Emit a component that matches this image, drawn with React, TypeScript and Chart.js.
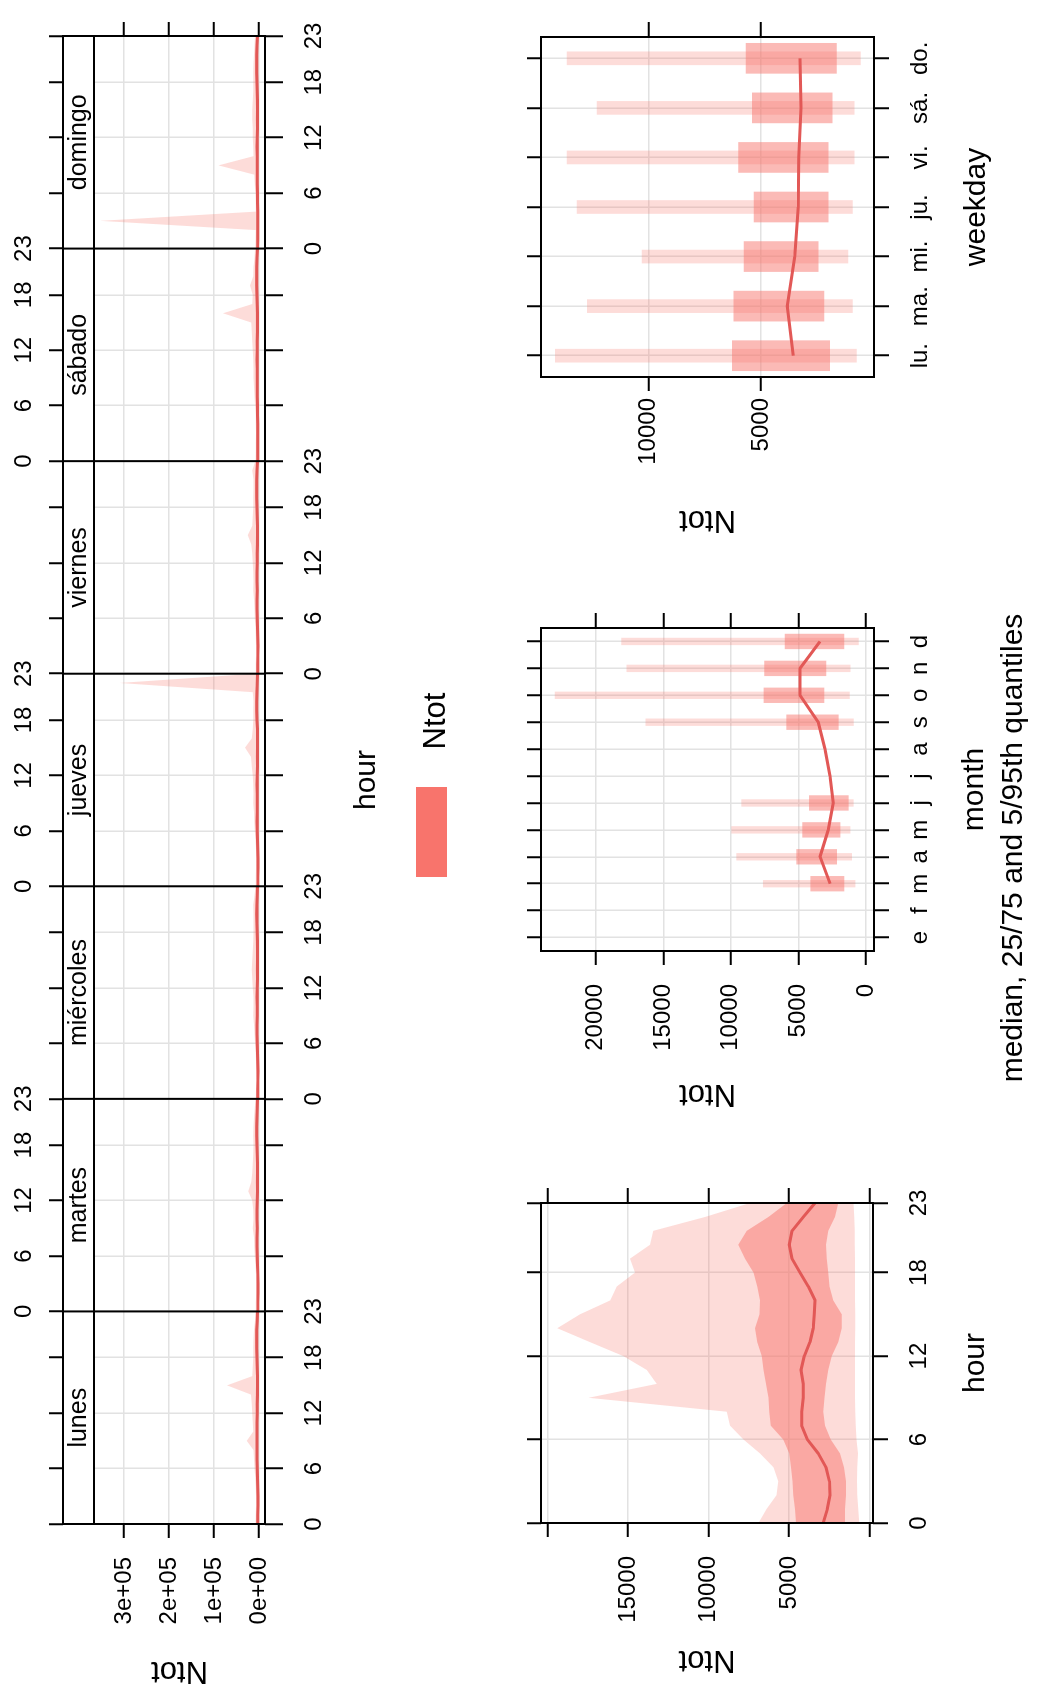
import React, { useEffect, useRef } from 'react';
import { Chart, registerables } from 'chart.js';

Chart.register(...registerables);

// ---------------- data ----------------
const hours = [0, 1, 2, 3, 4, 5, 6, 7, 8, 9, 10, 11, 12, 13, 14, 15, 16, 17, 18, 19, 20, 21, 22, 23];
const hourTicks = [0, 6, 12, 18, 23];
const dayNames = ['lunes', 'martes', 'miércoles', 'jueves', 'viernes', 'sábado', 'domingo'];

const dayHourMedian = [
  [2900, 2600, 2400, 2400, 2600, 3200, 4000, 4500, 4400, 4200, 4300, 4500, 4000, 3700, 3600, 3500, 3500, 3800, 4300, 4900, 5100, 4800, 4100, 3400],
  [2800, 2500, 2400, 2300, 2500, 3100, 3900, 4400, 4300, 4100, 4200, 4400, 3900, 3600, 3500, 3400, 3400, 3700, 4200, 4800, 5000, 4700, 4000, 3300],
  [2900, 2600, 2500, 2400, 2700, 3200, 3900, 4300, 4200, 4000, 4100, 4300, 3900, 3600, 3500, 3400, 3300, 3600, 4100, 4700, 5000, 4700, 4000, 3400],
  [2800, 2500, 2400, 2400, 2600, 3100, 3800, 4200, 4100, 3900, 4000, 4200, 3800, 3500, 3400, 3300, 3300, 3600, 4200, 4800, 5000, 4600, 3900, 3300],
  [2900, 2600, 2500, 2500, 2700, 3300, 4000, 4400, 4300, 4100, 4200, 4400, 4000, 3700, 3600, 3500, 3500, 3800, 4300, 4900, 5200, 4900, 4200, 3500],
  [3000, 2700, 2600, 2600, 2700, 3100, 3600, 4000, 4100, 4000, 4100, 4300, 4000, 3700, 3600, 3500, 3600, 3900, 4400, 5000, 5200, 4900, 4300, 3600],
  [3100, 2800, 2700, 2700, 2800, 3100, 3500, 3900, 4000, 3900, 4000, 4200, 3900, 3600, 3500, 3400, 3500, 3800, 4300, 4900, 5100, 4800, 4200, 3500],
];
const dayHourP25 = [
  [1600, 1500, 1400, 1400, 1500, 1900, 2500, 2800, 2800, 2700, 2700, 2600, 2400, 2000, 1800, 1800, 2200, 2500, 2600, 2700, 2700, 2600, 2200, 1900],
  [1500, 1400, 1400, 1300, 1500, 1800, 2400, 2700, 2900, 2800, 2700, 2500, 2300, 1900, 1700, 1700, 2300, 2500, 2600, 2600, 2700, 2500, 2100, 1900],
  [1500, 1500, 1400, 1400, 1600, 1800, 2400, 2800, 2900, 2800, 2600, 2500, 2300, 1900, 1700, 1800, 2200, 2400, 2500, 2700, 2800, 2600, 2100, 2000],
  [1500, 1400, 1400, 1400, 1500, 1800, 2300, 2700, 2800, 2700, 2600, 2500, 2300, 1900, 1700, 1700, 2200, 2400, 2500, 2600, 2600, 2500, 2100, 1900],
  [1600, 1500, 1500, 1400, 1600, 1900, 2500, 2800, 2900, 2800, 2700, 2600, 2400, 2000, 1800, 1800, 2300, 2500, 2600, 2700, 2800, 2600, 2200, 2000],
  [1600, 1600, 1500, 1500, 1600, 1800, 2200, 2600, 2800, 2800, 2700, 2600, 2400, 2000, 1800, 1800, 2200, 2500, 2600, 2700, 2700, 2600, 2300, 2000],
  [1700, 1600, 1500, 1500, 1600, 1800, 2100, 2500, 2700, 2700, 2600, 2600, 2400, 2000, 1800, 1800, 2200, 2500, 2600, 2700, 2700, 2600, 2300, 2000],
];
const dayHourP75 = [
  [4600, 4700, 4700, 4800, 4900, 5000, 5400, 6200, 6300, 6400, 6500, 6600, 6700, 7000, 7100, 6900, 6800, 7000, 7300, 7800, 8100, 7600, 6300, 5200],
  [4500, 4600, 4700, 4700, 4800, 5000, 5300, 6100, 6200, 6300, 6400, 6600, 6600, 6900, 7000, 6800, 6700, 6900, 7200, 7700, 8000, 7500, 6200, 5100],
  [4600, 4600, 4700, 4800, 4900, 5000, 5300, 6100, 6200, 6200, 6400, 6500, 6700, 6900, 7000, 6800, 6800, 7000, 7200, 7700, 8100, 7700, 6400, 5200],
  [4500, 4600, 4700, 4800, 4800, 4900, 5300, 6100, 6100, 6300, 6400, 6600, 6600, 6900, 7200, 6900, 6800, 6900, 7200, 7600, 8000, 7600, 6300, 5100],
  [4600, 4700, 4800, 4800, 4900, 5000, 5400, 6200, 6300, 6300, 6500, 6700, 6800, 7000, 7100, 6900, 6900, 7100, 7400, 7900, 8200, 7800, 6500, 5300],
  [4700, 4800, 4800, 4900, 5000, 5000, 5200, 5900, 6100, 6300, 6500, 6700, 6800, 7000, 7100, 7000, 7100, 7200, 7600, 8200, 8400, 7900, 6600, 5400],
  [4800, 4900, 4900, 5000, 5000, 5000, 5200, 5800, 6000, 6200, 6400, 6600, 6700, 6900, 7000, 6900, 7000, 7100, 7500, 8100, 8300, 7800, 6600, 5400],
];
const dayHourP5 = [
  [700, 750, 780, 800, 780, 740, 820, 870, 900, 920, 910, 900, 890, 900, 880, 870, 900, 910, 920, 930, 940, 930, 950, 980],
  [690, 740, 770, 790, 770, 730, 810, 860, 890, 910, 900, 890, 880, 890, 870, 860, 890, 900, 910, 920, 930, 920, 940, 970],
  [710, 760, 790, 810, 790, 750, 830, 880, 910, 930, 920, 910, 900, 910, 890, 880, 910, 920, 930, 940, 950, 940, 960, 990],
  [700, 740, 780, 800, 780, 740, 820, 860, 900, 920, 900, 900, 890, 900, 880, 870, 900, 900, 920, 930, 940, 930, 950, 980],
  [720, 760, 790, 810, 790, 750, 830, 880, 910, 930, 920, 910, 900, 910, 890, 880, 910, 920, 930, 940, 950, 940, 960, 990],
  [740, 780, 800, 820, 800, 760, 800, 840, 880, 900, 900, 900, 900, 900, 890, 880, 900, 910, 920, 930, 940, 940, 960, 1000],
  [750, 790, 810, 830, 810, 770, 790, 830, 870, 890, 890, 890, 890, 890, 880, 870, 890, 900, 910, 920, 930, 930, 950, 1000],
];
const dayHourP95 = [
  [8000, 7000, 6500, 6500, 7000, 8500, 10000, 11000, 12000, 27000, 13000, 14000, 15000, 16000, 18000, 71000, 15000, 14000, 13000, 13000, 12000, 11000, 9000, 8000],
  [7500, 7000, 6000, 6000, 6500, 8000, 9500, 10500, 11000, 14000, 12000, 13000, 15000, 24000, 17000, 15000, 14000, 13000, 12500, 13000, 12000, 11000, 9500, 8000],
  [7000, 6500, 6000, 6000, 6500, 7500, 9000, 10000, 11000, 13000, 12000, 12500, 14000, 15000, 16000, 15000, 14000, 13000, 12000, 12500, 12000, 13000, 10000, 8000],
  [7500, 7000, 6500, 6000, 6500, 8000, 9500, 10500, 11000, 13000, 12000, 13000, 14000, 16000, 18000, 31000, 16000, 14000, 13000, 13000, 12500, 14000, 310000, 9000],
  [7500, 7000, 6500, 6500, 7000, 8000, 9500, 10000, 11000, 13000, 12500, 13000, 14000, 15000, 17000, 25000, 15000, 14000, 13000, 13000, 12000, 12000, 15000, 8500],
  [8000, 7500, 7000, 6500, 7000, 7500, 9000, 10000, 11000, 12000, 12000, 13000, 14000, 15000, 16000, 17000, 80000, 15000, 14000, 20000, 13000, 12000, 10000, 9000],
  [8500, 8000, 7500, 353000, 7500, 7500, 8500, 9500, 10500, 90000, 12000, 13000, 14000, 14000, 15000, 15000, 14000, 13000, 13000, 13000, 12000, 11000, 10000, 9000],
];
const topValueTicks = [0, 100000, 200000, 300000];
const topValueLabels = ['0e+00', '1e+05', '2e+05', '3e+05'];

// hour panel
const hourMedian = [2870, 2620, 2450, 2490, 2700, 3180, 3860, 4210, 4210, 4110, 4110, 4250, 4050, 3700, 3490, 3430, 3380, 3800, 4320, 4810, 4980, 4810, 4110, 3380];
const hourP25 = [1520, 1520, 1460, 1460, 1580, 1830, 2410, 2760, 2870, 2800, 2700, 2560, 2350, 1940, 1730, 1730, 2250, 2490, 2560, 2660, 2700, 2560, 2140, 1940];
const hourP75 = [4570, 4630, 4730, 4790, 4880, 4980, 5350, 6140, 6220, 6280, 6430, 6590, 6700, 6970, 7110, 6840, 6800, 6970, 7210, 7730, 8150, 7630, 6280, 5140];
const hourP5 = [630, 700, 760, 780, 760, 720, 800, 850, 880, 900, 900, 900, 900, 900, 880, 880, 900, 900, 900, 900, 920, 920, 950, 1000];
const hourP95 = [6900, 6390, 5770, 5660, 5970, 6800, 7830, 8660, 8870, 17460, 13220, 13840, 15290, 17360, 19390, 17980, 16110, 15700, 14560, 14870, 13630, 13430, 10200, 7420];
const hourValueTicks = [0, 5000, 10000, 15000, 20000];
const hourValueLabels = ['', '5000', '10000', '15000', ''];

// month panel
const monthTicks = [1, 2, 3, 4, 5, 6, 7, 8, 9, 10, 11, 12];
const monthLabels = ['e', 'f', 'm', 'a', 'm', 'j', 'j', 'a', 's', 'o', 'n', 'd'];
const monthLineMonths = [3, 4, 5, 6, 7, 8, 9, 10, 11, 12];
const monthMedian = [2660, 3400, 2790, 2420, 2660, 3030, 3530, 4880, 4880, 3400];
const monthBoxMonths = [3, 4, 5, 6, 9, 10, 11, 12];
const monthP25 = [1630, 2170, 1920, 1310, 2050, 3110, 2960, 1630];
const monthP75 = [4090, 5130, 4690, 4190, 5870, 7550, 7500, 5990];
const monthP5 = [810, 1060, 1180, 940, 940, 1230, 1180, 570];
const monthP95 = [7600, 9570, 9940, 9200, 16300, 23010, 17700, 18080];
const monthValueTicks = [0, 5000, 10000, 15000, 20000];
const monthValueLabels = ['0', '5000', '10000', '15000', '20000'];

// weekday panel
const weekdayTicks = [1, 2, 3, 4, 5, 6, 7];
const weekdayLabels = ['lu.', 'ma.', 'mi.', 'ju.', 'vi.', 'sá.', 'do.'];
const weekdayMedian = [3570, 3840, 3500, 3350, 3320, 3230, 3270];
const weekdayP25 = [1950, 2210, 2460, 2020, 2020, 1840, 1650];
const weekdayP75 = [6270, 6200, 5750, 5310, 6000, 5380, 5660];
const weekdayP5 = [770, 940, 1140, 940, 870, 870, 590];
const weekdayP95 = [14120, 12710, 10280, 13160, 13600, 12270, 13600];
const weekdayValueTicks = [5000, 10000];
const weekdayValueLabels = ['5000', '10000'];

// ---------------- styling / layout ----------------
const W = 1686;
const H = 1037;
const FONT = '"Liberation Sans", Arial, Helvetica, sans-serif';
const LIGHT = 'rgba(248,118,109,0.26)';
const DARK = 'rgba(248,118,109,0.5)';
const LINE = 'rgb(226,88,86)';
const SWATCH = 'rgb(248,116,108)';
const GRID = '#e2e2e2';
const NONE = 'rgba(0,0,0,0)';
const HOURS_PER_PANEL = 23;
const STRIP_H = 31;

const TOP_AREA = { left: 162, top: 63, right: 1650, bottom: 265 };
const HOUR_AREA = { left: 163, top: 541, right: 483, bottom: 873 };
const MONTH_AREA = { left: 735, top: 541, right: 1058, bottom: 874 };
const WD_AREA = { left: 1309, top: 541, right: 1649, bottom: 874 };

// space reserved for each axis box (labels live inside it)
const TOP_SIZES = { left: 150, right: 30, top: 63, bottom: 80 };
const LOWER_SIZES = { left: 150, right: 30, top: 60, bottom: 80 };

function pad(a: any, s: any) {
  return { left: a.left - s.left, top: a.top - s.top, right: W - a.right - s.right, bottom: H - a.bottom - s.bottom };
}

function axis(o: any) {
  return {
    type: 'linear',
    position: o.position,
    min: o.min,
    max: o.max,
    bounds: 'data',
    offset: false,
    afterFit: (s: any) => {
      if (s.isHorizontal()) s.height = o.size;
      else s.width = o.size;
    },
    afterBuildTicks: (s: any) => {
      s.ticks = o.ticks.map((v: number) => ({ value: v }));
    },
    ticks: {
      autoSkip: false,
      maxRotation: 0,
      minRotation: 0,
      padding: o.pad ?? 19,
      color: '#000',
      font: { family: FONT, size: 24, lineHeight: 1 },
      callback: (v: number, i: number) => (o.label ? o.label(v, i) : ''),
    },
    grid: {
      offset: false,
      drawOnChartArea: !!o.grid,
      color: o.gridColor ?? GRID,
      lineWidth: 1.5,
      tickColor: '#000',
      tickWidth: 2,
      tickLength: o.tickLength ?? 14,
      drawTicks: true,
    },
    border: { display: false },
  };
}

function baseOptions(area: any, sizes: any) {
  return {
    responsive: false,
    maintainAspectRatio: false,
    animation: false,
    devicePixelRatio: 1,
    events: [],
    layout: { padding: pad(area, sizes), autoPadding: false },
    plugins: { legend: { display: false }, tooltip: { enabled: false }, title: { display: false } },
  };
}

function txt(ctx: any, s: string, x: number, y: number, size: number, rotate = false) {
  ctx.save();
  ctx.translate(x, y);
  if (rotate) ctx.rotate(-Math.PI / 2);
  ctx.font = `${size}px ${FONT}`;
  ctx.fillStyle = '#000';
  ctx.textAlign = 'center';
  ctx.textBaseline = 'middle';
  ctx.fillText(s, 0, 0);
  ctx.restore();
}

function box(ctx: any, a: any) {
  ctx.save();
  ctx.strokeStyle = '#000';
  ctx.lineWidth = 2;
  ctx.strokeRect(a.left, a.top, a.right - a.left, a.bottom - a.top);
  ctx.restore();
}

function bandSets(pts: (arr: any) => any[], med: any, p25: any, p75: any, p5: any, p95: any) {
  const common = { pointRadius: 0, tension: 0, borderColor: NONE, borderWidth: 0 };
  return [
    { data: pts(med), borderColor: LINE, borderWidth: 3, pointRadius: 0, tension: 0, fill: false, borderJoinStyle: 'round' },
    { data: pts(p75), ...common, backgroundColor: DARK, fill: '+1' },
    { data: pts(p25), ...common, fill: false },
    { data: pts(p95), ...common, backgroundColor: LIGHT, fill: '+1' },
    { data: pts(p5), ...common, fill: false },
  ];
}

// ---------- top (day x hour) ----------
function dayHourLabel(v: number, bottom: boolean) {
  if (v % HOURS_PER_PANEL === 0) {
    const b = v / HOURS_PER_PANEL;
    if (b < dayNames.length && (b % 2 === 0) === bottom) return String(hourTicks[0]);
    if (b > 0 && ((b - 1) % 2 === 0) === bottom) return String(hourTicks[hourTicks.length - 1]);
    return '';
  }
  const d = Math.floor(v / HOURS_PER_PANEL);
  const h = v - d * HOURS_PER_PANEL;
  return (d % 2 === 0) === bottom ? String(h) : '';
}

function topConfig() {
  const pts = (arr: number[][]) =>
    arr.flatMap((row, d) => row.map((v, i) => ({ x: d * HOURS_PER_PANEL + hours[i], y: v })));
  const xTickVals: number[] = [];
  dayNames.forEach((_, d) => hourTicks.slice(0, -1).forEach((h) => xTickVals.push(d * HOURS_PER_PANEL + h)));
  xTickVals.push(dayNames.length * HOURS_PER_PANEL);
  const yPx0 = 259;
  const pxPerUnit = 45 / 100000;
  const yMax = (yPx0 - TOP_AREA.top) / pxPerUnit;
  const yMin = -(TOP_AREA.bottom - yPx0) / pxPerUnit;
  const xMax = dayNames.length * HOURS_PER_PANEL;
  const S = TOP_SIZES;
  return {
    type: 'line',
    data: { datasets: bandSets(pts, dayHourMedian, dayHourP25, dayHourP75, dayHourP5, dayHourP95) },
    options: {
      ...baseOptions(TOP_AREA, S),
      scales: {
        x: axis({ position: 'bottom', size: S.bottom, min: 0, max: xMax, ticks: xTickVals, grid: true, tickLength: 18, pad: 19, label: (v: number) => dayHourLabel(v, true) }),
        x2: axis({ position: 'top', size: S.top, min: 0, max: xMax, ticks: xTickVals, grid: false, tickLength: 14, pad: 13, label: (v: number) => dayHourLabel(v, false) }),
        y: axis({ position: 'left', size: S.left, min: yMin, max: yMax, ticks: topValueTicks, grid: true, label: (_: number, i: number) => topValueLabels[i] }),
        y2: axis({ position: 'right', size: S.right, min: yMin, max: yMax, ticks: topValueTicks, grid: false }),
      },
    },
    plugins: [
      {
        id: 'topDecor',
        afterDraw(chart: any) {
          const { ctx, chartArea: a } = chart;
          const xs = chart.scales.x;
          ctx.save();
          ctx.fillStyle = '#fff';
          ctx.fillRect(a.left, a.top, a.right - a.left, STRIP_H);
          ctx.strokeStyle = '#000';
          ctx.lineWidth = 2;
          ctx.beginPath();
          ctx.moveTo(a.left, a.top + STRIP_H);
          ctx.lineTo(a.right, a.top + STRIP_H);
          for (let b = 1; b < dayNames.length; b++) {
            const px = xs.getPixelForValue(b * HOURS_PER_PANEL);
            ctx.moveTo(px, a.top);
            ctx.lineTo(px, a.bottom);
          }
          ctx.stroke();
          ctx.restore();
          box(ctx, a);
          dayNames.forEach((n, d) => {
            txt(ctx, n, xs.getPixelForValue(d * HOURS_PER_PANEL + HOURS_PER_PANEL / 2), a.top + STRIP_H / 2 + 1, 25);
          });
          txt(ctx, 'hour', (a.left + a.right) / 2, a.bottom + 102, 30);
          txt(ctx, 'Ntot', a.left - 147, (a.top + STRIP_H + a.bottom) / 2, 31, true);
          // legend
          ctx.save();
          ctx.fillStyle = SWATCH;
          ctx.fillRect(809, 416, 90, 31);
          ctx.restore();
          txt(ctx, 'Ntot', 965, 436, 31);
        },
      },
    ],
  };
}

// ---------- hour ----------
function hourConfig() {
  const pts = (arr: number[]) => arr.map((v, i) => ({ x: hours[i], y: v }));
  const y0 = 869.5;
  const ppu = 80.5 / 5000;
  const yMax = (y0 - HOUR_AREA.top) / ppu;
  const yMin = -(HOUR_AREA.bottom - y0) / ppu;
  const S = LOWER_SIZES;
  return {
    type: 'line',
    data: { datasets: bandSets(pts, hourMedian, hourP25, hourP75, hourP5, hourP95) },
    options: {
      ...baseOptions(HOUR_AREA, S),
      scales: {
        x: axis({ position: 'bottom', size: S.bottom, min: hours[0], max: hours[hours.length - 1], ticks: hourTicks, grid: true, tickLength: 15, pad: 19, label: (v: number) => String(v) }),
        x2: axis({ position: 'top', size: S.top, min: hours[0], max: hours[hours.length - 1], ticks: hourTicks, grid: false, tickLength: 14 }),
        y: axis({ position: 'left', size: S.left, min: yMin, max: yMax, ticks: hourValueTicks, grid: true, label: (_: number, i: number) => hourValueLabels[i] }),
        y2: axis({ position: 'right', size: S.right, min: yMin, max: yMax, ticks: hourValueTicks, grid: false, tickLength: 15 }),
      },
    },
    plugins: [
      {
        id: 'hourDecor',
        afterDraw(chart: any) {
          const { ctx, chartArea: a } = chart;
          box(ctx, a);
          txt(ctx, 'hour', (a.left + a.right) / 2, a.bottom + 103, 30);
          txt(ctx, 'Ntot', a.left - 137, (a.top + a.bottom) / 2, 31, true);
        },
      },
    ],
  };
}

// ---------- month ----------
function monthConfig() {
  const y0 = 866;
  const ppu = 67.575 / 5000;
  const yMax = (y0 - MONTH_AREA.top) / ppu;
  const yMin = -(MONTH_AREA.bottom - y0) / ppu;
  const S = LOWER_SIZES;
  return {
    type: 'bar',
    data: {
      datasets: [
        { type: 'line', data: monthLineMonths.map((m, i) => ({ x: m, y: monthMedian[i] })), borderColor: LINE, borderWidth: 3, pointRadius: 0, tension: 0, fill: false, borderJoinStyle: 'round' },
        { type: 'bar', data: monthBoxMonths.map((m, i) => ({ x: m, y: [monthP25[i], monthP75[i]] })), backgroundColor: DARK, barThickness: 14.7, grouped: false, borderWidth: 0 },
        { type: 'bar', data: monthBoxMonths.map((m, i) => ({ x: m, y: [monthP5[i], monthP95[i]] })), backgroundColor: LIGHT, barThickness: 6.7, grouped: false, borderWidth: 0 },
      ],
    },
    options: {
      ...baseOptions(MONTH_AREA, S),
      scales: {
        x: axis({ position: 'bottom', size: S.bottom, min: 0.5, max: 12.5, ticks: monthTicks, grid: true, tickLength: 15, pad: 19, label: (_: number, i: number) => monthLabels[i] }),
        x2: axis({ position: 'top', size: S.top, min: 0.5, max: 12.5, ticks: monthTicks, grid: false, tickLength: 14 }),
        y: axis({ position: 'left', size: S.left, min: yMin, max: yMax, ticks: monthValueTicks, grid: true, label: (_: number, i: number) => monthValueLabels[i] }),
        y2: axis({ position: 'right', size: S.right, min: yMin, max: yMax, ticks: monthValueTicks, grid: false, tickLength: 15 }),
      },
    },
    plugins: [
      {
        id: 'monthDecor',
        afterDraw(chart: any) {
          const { ctx, chartArea: a } = chart;
          box(ctx, a);
          txt(ctx, 'month', (a.left + a.right) / 2, a.bottom + 101, 30);
          txt(ctx, 'Ntot', a.left - 143, (a.top + a.bottom) / 2, 31, true);
          txt(ctx, 'median, 25/75 and 5/95th quantiles', 838, 1014, 30);
        },
      },
    ],
  };
}

// ---------- weekday ----------
function weekdayConfig() {
  const y5 = 761;
  const ppu = 112.7 / 5000;
  const yMax = weekdayValueTicks[0] + (y5 - WD_AREA.top) / ppu;
  const yMin = weekdayValueTicks[0] - (WD_AREA.bottom - y5) / ppu;
  const S = LOWER_SIZES;
  return {
    type: 'bar',
    data: {
      datasets: [
        { type: 'line', data: weekdayTicks.map((d, i) => ({ x: d, y: weekdayMedian[i] })), borderColor: LINE, borderWidth: 3, pointRadius: 0, tension: 0, fill: false, borderJoinStyle: 'round' },
        { type: 'bar', data: weekdayTicks.map((d, i) => ({ x: d, y: [weekdayP25[i], weekdayP75[i]] })), backgroundColor: DARK, barThickness: 30, grouped: false, borderWidth: 0 },
        { type: 'bar', data: weekdayTicks.map((d, i) => ({ x: d, y: [weekdayP5[i], weekdayP95[i]] })), backgroundColor: LIGHT, barThickness: 13, grouped: false, borderWidth: 0 },
      ],
    },
    options: {
      ...baseOptions(WD_AREA, S),
      scales: {
        x: axis({ position: 'bottom', size: S.bottom, min: 0.57, max: 7.43, ticks: weekdayTicks, grid: true, tickLength: 15, pad: 19, label: (_: number, i: number) => weekdayLabels[i] }),
        x2: axis({ position: 'top', size: S.top, min: 0.57, max: 7.43, ticks: weekdayTicks, grid: false, tickLength: 14 }),
        y: axis({ position: 'left', size: S.left, min: yMin, max: yMax, ticks: weekdayValueTicks, grid: true, pad: 7, label: (_: number, i: number) => weekdayValueLabels[i] }),
        y2: axis({ position: 'right', size: S.right, min: yMin, max: yMax, ticks: weekdayValueTicks, grid: false, tickLength: 15 }),
      },
    },
    plugins: [
      {
        id: 'wdDecor',
        afterDraw(chart: any) {
          const { ctx, chartArea: a } = chart;
          box(ctx, a);
          txt(ctx, 'weekday', (a.left + a.right) / 2, a.bottom + 103, 30);
          txt(ctx, 'Ntot', a.left - 143, (a.top + a.bottom) / 2, 31, true);
        },
      },
    ],
  };
}

export default function App() {
  const topRef = useRef<HTMLCanvasElement>(null);
  const hourRef = useRef<HTMLCanvasElement>(null);
  const monthRef = useRef<HTMLCanvasElement>(null);
  const wdRef = useRef<HTMLCanvasElement>(null);

  useEffect(() => {
    document.body.style.overflow = 'hidden';
    const charts = [
      new Chart(topRef.current as any, topConfig() as any),
      new Chart(hourRef.current as any, hourConfig() as any),
      new Chart(monthRef.current as any, monthConfig() as any),
      new Chart(wdRef.current as any, weekdayConfig() as any),
    ];
    return () => charts.forEach((c) => c.destroy());
  }, []);

  const cs: any = { position: 'absolute', left: 0, top: 0, width: W, height: H };
  return (
    <div
      style={{
        position: 'absolute',
        left: 0,
        top: 0,
        width: W,
        height: H,
        background: '#fff',
        transformOrigin: '0 0',
        transform: `translateY(${W}px) rotate(-90deg)`,
      }}
    >
      <canvas ref={topRef} width={W} height={H} style={cs} />
      <canvas ref={hourRef} width={W} height={H} style={cs} />
      <canvas ref={monthRef} width={W} height={H} style={cs} />
      <canvas ref={wdRef} width={W} height={H} style={cs} />
    </div>
  );
}
